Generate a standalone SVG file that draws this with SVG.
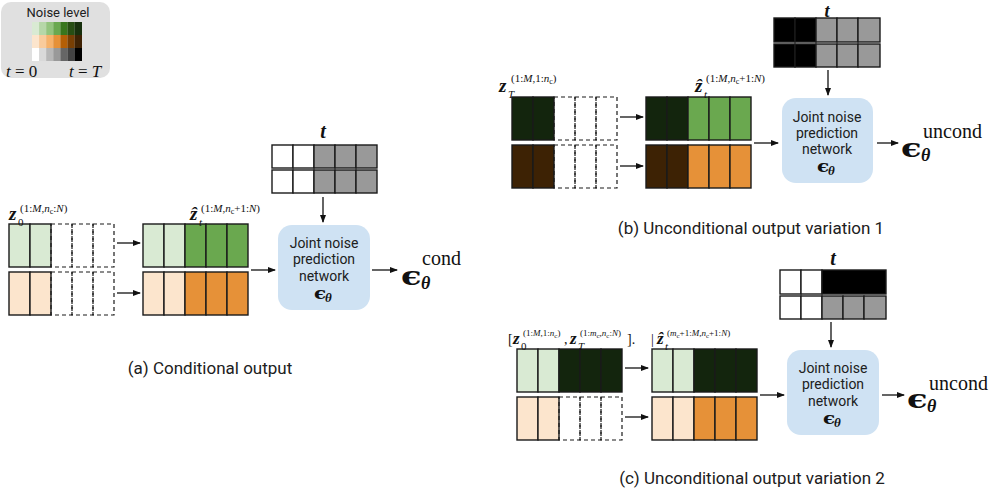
<svg xmlns="http://www.w3.org/2000/svg" width="997" height="493" viewBox="0 0 997 493">
<style>
.c{stroke:#1a1a1a;stroke-width:1.4}
.d{fill:none;stroke:#1a1a1a;stroke-width:1.2;stroke-dasharray:4 3}
.lg{fill:#d9ead3}.g{fill:#6aa84f}.dg{fill:#13250d}
.lo{fill:#fce5cd}.o{fill:#e69138}.db{fill:#3d2204}
.w{fill:#fff}.gy{fill:#999}.bk{fill:#000}
.net{fill:#cfe2f3}
.sans{font-family:Roboto,"Open Sans",sans-serif;fill:#202020}
.nt{font-size:14px;text-anchor:middle}
.cap{font-size:17px;text-anchor:middle}
.m{font-family:"Liberation Serif","DejaVu Serif",serif;fill:#111}
.bz{font-weight:bold;font-style:italic;font-size:19px}
.bt{font-weight:bold;font-style:italic;font-size:20px;text-anchor:middle}
.sup{font-size:11px}
.ss{font-size:8px}
.sup9{font-size:9px}
.ss7{font-size:7px}
.br{font-size:14px}
.i{font-style:italic}
.eps{font-family:"DejaVu Serif","Liberation Serif",serif;font-weight:bold;fill:#111}
.th{font-family:"Liberation Serif","DejaVu Serif",serif;font-weight:bold;font-style:italic;fill:#111}
.ar{fill:none;stroke:#111;stroke-width:1.3;marker-end:url(#ah)}
</style>
<defs>
<marker id="ah" markerWidth="8" markerHeight="6" refX="7" refY="3" orient="auto" markerUnits="userSpaceOnUse">
<path d="M0,0 L8,3 L0,6 z" fill="#111"/>
</marker>
</defs>

<g id="legend">
<rect x="1" y="2" width="109" height="76" rx="10" fill="#e0e0e0"/>
<text x="58" y="17" class="sans" style="font-size:13px" text-anchor="middle" fill="#111">Noise level</text>
<rect x="32" y="22" width="7.2" height="13" fill="#d9ead3"/><rect x="39.1" y="22" width="7.2" height="13" fill="#b6d7a8"/><rect x="46.2" y="22" width="7.2" height="13" fill="#93c47d"/><rect x="53.3" y="22" width="7.2" height="13" fill="#6aa84f"/><rect x="60.4" y="22" width="7.2" height="13" fill="#38761d"/><rect x="67.5" y="22" width="7.2" height="13" fill="#274e13"/><rect x="74.6" y="22" width="7.4" height="13" fill="#17300d"/>
<rect x="32" y="35" width="7.2" height="13" fill="#fce5cd"/><rect x="39.1" y="35" width="7.2" height="13" fill="#f9cb9c"/><rect x="46.2" y="35" width="7.2" height="13" fill="#f6b26b"/><rect x="53.3" y="35" width="7.2" height="13" fill="#e69138"/><rect x="60.4" y="35" width="7.2" height="13" fill="#b45f06"/><rect x="67.5" y="35" width="7.2" height="13" fill="#783f04"/><rect x="74.6" y="35" width="7.4" height="13" fill="#3f2204"/>
<rect x="32" y="48" width="7.2" height="13" fill="#ffffff"/><rect x="39.1" y="48" width="7.2" height="13" fill="#d9d9d9"/><rect x="46.2" y="48" width="7.2" height="13" fill="#b7b7b7"/><rect x="53.3" y="48" width="7.2" height="13" fill="#999999"/><rect x="60.4" y="48" width="7.2" height="13" fill="#666666"/><rect x="67.5" y="48" width="7.2" height="13" fill="#434343"/><rect x="74.6" y="48" width="7.4" height="13" fill="#000000"/>
<text x="6" y="77" class="m" style="font-size:17px"><tspan class="i">t</tspan> = 0</text>
<text x="69" y="77" class="m" style="font-size:17px"><tspan class="i">t</tspan> = <tspan class="i">T</tspan></text>
</g>

<!-- Panel (a) -->
<g id="a-input">
<rect class="c lg" x="9" y="224" width="21" height="43"/><rect class="c lg" x="30" y="224" width="21" height="43"/>
<rect class="d" x="51" y="224" width="21" height="43"/><rect class="d" x="72" y="224" width="21" height="43"/><rect class="d" x="93" y="224" width="21" height="43"/>
<rect class="c lo" x="9" y="272" width="21" height="43"/><rect class="c lo" x="30" y="272" width="21" height="43"/>
<rect class="d" x="51" y="272" width="21" height="43"/><rect class="d" x="72" y="272" width="21" height="43"/><rect class="d" x="93" y="272" width="21" height="43"/>
<text class="m" y="220"><tspan x="9" class="bz">z</tspan><tspan x="18" y="226" class="sup">0</tspan><tspan x="20" y="212" class="sup">(1:<tspan class="i">M</tspan>,<tspan class="i">n</tspan></tspan><tspan class="ss" dy="2">c</tspan><tspan class="sup" dy="-2">:<tspan class="i">N</tspan>)</tspan></text>
</g>
<g id="a-mid">
<rect class="c lg" x="143" y="224" width="21" height="43"/><rect class="c lg" x="164" y="224" width="21" height="43"/><rect class="c g" x="185" y="224" width="21" height="43"/><rect class="c g" x="206" y="224" width="21" height="43"/><rect class="c g" x="227" y="224" width="21" height="43"/>
<rect class="c lo" x="143" y="272" width="21" height="43"/><rect class="c lo" x="164" y="272" width="21" height="43"/><rect class="c o" x="185" y="272" width="21" height="43"/><rect class="c o" x="206" y="272" width="21" height="43"/><rect class="c o" x="227" y="272" width="21" height="43"/>
<text class="m" y="220"><tspan x="190" class="bz">ẑ</tspan><tspan x="199" y="226" class="sup i">t</tspan><tspan x="201" y="212" class="sup">(1:<tspan class="i">M</tspan>,<tspan class="i">n</tspan></tspan><tspan class="ss" dy="2">c</tspan><tspan class="sup" dy="-2">+1:<tspan class="i">N</tspan>)</tspan></text>
</g>
<g id="a-t">
<text x="323" y="138" class="m bt">t</text>
<rect class="c w" x="272" y="145" width="21" height="23"/><rect class="c w" x="293" y="145" width="21" height="23"/><rect class="c gy" x="314" y="145" width="21" height="23"/><rect class="c gy" x="335" y="145" width="21" height="23"/><rect class="c gy" x="356" y="145" width="21" height="23"/>
<rect class="c w" x="272" y="170" width="21" height="23"/><rect class="c w" x="293" y="170" width="21" height="23"/><rect class="c gy" x="314" y="170" width="21" height="23"/><rect class="c gy" x="335" y="170" width="21" height="23"/><rect class="c gy" x="356" y="170" width="21" height="23"/>
</g>
<g id="a-net">
<rect class="net" x="278" y="225" width="92" height="85" rx="14"/>
<text class="sans nt"><tspan x="324" y="248">Joint noise</tspan><tspan x="324" y="264">prediction</tspan><tspan x="324" y="281">network</tspan></text>
<text transform="translate(314,299) scale(1.25,1)" class="eps" style="font-size:16px">ϵ</text><text x="325" y="302" class="th" style="font-size:13px">θ</text>
</g>
<g id="a-out">
<text transform="translate(401,285) scale(1.3,1)" class="eps" style="font-size:26px">ϵ</text><text x="421" y="289" class="th" style="font-size:18px">θ</text>
<text x="422" y="265" class="m" style="font-size:20px">cond</text>
</g>
<text id="a-cap" x="210" y="374" class="sans cap">(a) Conditional output</text>

<!-- Panel (b) -->
<g id="b-input">
<rect class="c dg" x="512" y="97" width="21" height="43"/><rect class="c dg" x="533" y="97" width="21" height="43"/>
<rect class="d" x="554" y="97" width="21" height="43"/><rect class="d" x="575" y="97" width="21" height="43"/><rect class="d" x="596" y="97" width="21" height="43"/>
<rect class="c db" x="512" y="145" width="21" height="43"/><rect class="c db" x="533" y="145" width="21" height="43"/>
<rect class="d" x="554" y="145" width="21" height="43"/><rect class="d" x="575" y="145" width="21" height="43"/><rect class="d" x="596" y="145" width="21" height="43"/>
<text class="m" y="92"><tspan x="499" class="bz">z</tspan><tspan x="508" y="98" class="sup i">T</tspan><tspan x="511" y="82" class="sup">(1:<tspan class="i">M</tspan>,1:<tspan class="i">n</tspan></tspan><tspan class="ss" dy="2">c</tspan><tspan class="sup" dy="-2">)</tspan></text>
</g>
<g id="b-mid">
<rect class="c dg" x="646" y="97" width="21" height="43"/><rect class="c dg" x="667" y="97" width="21" height="43"/><rect class="c g" x="688" y="97" width="21" height="43"/><rect class="c g" x="709" y="97" width="21" height="43"/><rect class="c g" x="730" y="97" width="21" height="43"/>
<rect class="c db" x="646" y="145" width="21" height="43"/><rect class="c db" x="667" y="145" width="21" height="43"/><rect class="c o" x="688" y="145" width="21" height="43"/><rect class="c o" x="709" y="145" width="21" height="43"/><rect class="c o" x="730" y="145" width="21" height="43"/>
<text class="m" y="92"><tspan x="695" class="bz">ẑ</tspan><tspan x="704" y="98" class="sup i">t</tspan><tspan x="706" y="82" class="sup">(1:<tspan class="i">M</tspan>,<tspan class="i">n</tspan></tspan><tspan class="ss" dy="2">c</tspan><tspan class="sup" dy="-2">+1:<tspan class="i">N</tspan>)</tspan></text>
</g>
<g id="b-t">
<text x="827" y="17" class="m bt" style="font-size:18px">t</text>
<rect class="c bk" x="774" y="18" width="21" height="24"/><rect class="c bk" x="795" y="18" width="21" height="24"/><rect class="c gy" x="816" y="18" width="21" height="24"/><rect class="c gy" x="837" y="18" width="21" height="24"/><rect class="c gy" x="858" y="18" width="22" height="24"/>
<rect class="c bk" x="774" y="44" width="21" height="23"/><rect class="c bk" x="795" y="44" width="21" height="23"/><rect class="c gy" x="816" y="44" width="21" height="23"/><rect class="c gy" x="837" y="44" width="21" height="23"/><rect class="c gy" x="858" y="44" width="22" height="23"/>
</g>
<g id="b-net">
<rect class="net" x="782" y="98" width="91" height="85" rx="14"/>
<text class="sans nt"><tspan x="827" y="122">Joint noise</tspan><tspan x="827" y="138">prediction</tspan><tspan x="827" y="154">network</tspan></text>
<text transform="translate(817,172) scale(1.25,1)" class="eps" style="font-size:16px">ϵ</text><text x="828" y="175" class="th" style="font-size:13px">θ</text>
</g>
<g id="b-out">
<text transform="translate(901,157) scale(1.3,1)" class="eps" style="font-size:26px">ϵ</text><text x="921" y="161" class="th" style="font-size:18px">θ</text>
<text x="923" y="138" class="m" style="font-size:20px">uncond</text>
</g>
<text id="b-cap" x="751" y="234" class="sans cap">(b) Unconditional output variation 1</text>

<!-- Panel (c) -->
<g id="c-input">
<rect class="c lg" x="517" y="349" width="21" height="43"/><rect class="c lg" x="538" y="349" width="21" height="43"/><rect class="c dg" x="559" y="349" width="21" height="43"/><rect class="c dg" x="580" y="349" width="21" height="43"/><rect class="c dg" x="601" y="349" width="21" height="43"/>
<rect class="c lo" x="517" y="397" width="21" height="43"/><rect class="c lo" x="538" y="397" width="21" height="43"/>
<rect class="d" x="559" y="397" width="21" height="43"/><rect class="d" x="580" y="397" width="21" height="43"/><rect class="d" x="601" y="397" width="21" height="43"/>
<text class="m" y="344"><tspan x="508" class="br">[</tspan><tspan x="513" class="bz" style="font-size:17px">z</tspan><tspan x="521" y="350" class="sup">0</tspan><tspan x="523" y="336" class="sup9">(1:<tspan class="i">M</tspan>,1:<tspan class="i">n</tspan></tspan><tspan class="ss7" dy="2">c</tspan><tspan class="sup9" dy="-2">)</tspan><tspan x="564" y="344" class="br">,</tspan><tspan x="570" y="344" class="bz" style="font-size:17px">z</tspan><tspan x="578" y="350" class="sup i">T</tspan><tspan x="580" y="336" class="sup9">(1:<tspan class="i">m</tspan></tspan><tspan class="ss7" dy="2">c</tspan><tspan class="sup9" dy="-2">,<tspan class="i">n</tspan></tspan><tspan class="ss7" dy="2">c</tspan><tspan class="sup9" dy="-2">:<tspan class="i">N</tspan>)</tspan><tspan x="627" y="344" class="br">].</tspan></text>
</g>
<g id="c-mid">
<rect class="c lg" x="652" y="349" width="21" height="43"/><rect class="c lg" x="673" y="349" width="21" height="43"/><rect class="c dg" x="694" y="349" width="21" height="43"/><rect class="c dg" x="715" y="349" width="21" height="43"/><rect class="c dg" x="736" y="349" width="21" height="43"/>
<rect class="c lo" x="652" y="397" width="21" height="43"/><rect class="c lo" x="673" y="397" width="21" height="43"/><rect class="c o" x="694" y="397" width="21" height="43"/><rect class="c o" x="715" y="397" width="21" height="43"/><rect class="c o" x="736" y="397" width="21" height="43"/>
<text class="m" y="344"><tspan x="651" class="br">|</tspan><tspan x="657" class="bz" style="font-size:17px">ẑ</tspan><tspan x="665" y="350" class="sup i">t</tspan><tspan x="667" y="336" class="sup9">(<tspan class="i">m</tspan></tspan><tspan class="ss7" dy="2">c</tspan><tspan class="sup9" dy="-2">+1:<tspan class="i">M</tspan>,<tspan class="i">n</tspan></tspan><tspan class="ss7" dy="2">c</tspan><tspan class="sup9" dy="-2">+1:<tspan class="i">N</tspan>)</tspan></text>
</g>
<g id="c-t">
<text x="833" y="265" class="m bt">t</text>
<rect class="c w" x="780" y="270" width="21" height="24"/><rect class="c w" x="801" y="270" width="21" height="24"/><rect class="c bk" x="822" y="270" width="64" height="24"/>
<rect class="c w" x="780" y="296" width="21" height="23"/><rect class="c w" x="801" y="296" width="21" height="23"/><rect class="c gy" x="822" y="296" width="21" height="23"/><rect class="c gy" x="843" y="296" width="21" height="23"/><rect class="c gy" x="864" y="296" width="22" height="23"/>
</g>
<g id="c-net">
<rect class="net" x="787" y="350" width="92" height="85" rx="14"/>
<text class="sans nt"><tspan x="833" y="373">Joint noise</tspan><tspan x="833" y="389">prediction</tspan><tspan x="833" y="406">network</tspan></text>
<text transform="translate(823,424) scale(1.25,1)" class="eps" style="font-size:16px">ϵ</text><text x="834" y="427" class="th" style="font-size:13px">θ</text>
</g>
<g id="c-out">
<text transform="translate(907,408) scale(1.3,1)" class="eps" style="font-size:26px">ϵ</text><text x="927" y="412" class="th" style="font-size:18px">θ</text>
<text x="929" y="390" class="m" style="font-size:20px">uncond</text>
</g>
<text id="c-cap" x="752" y="484" class="sans cap">(c) Unconditional output variation 2</text>

<g id="connectors">
<path class="ar" d="M117,243 H140"/>
<path class="ar" d="M117,293 H140"/>
<path class="ar" d="M251,270 H275"/>
<path class="ar" d="M323,197 V222"/>
<path class="ar" d="M372,270 H397"/>
<path class="ar" d="M620,117 H643"/>
<path class="ar" d="M620,166 H643"/>
<path class="ar" d="M754,143 H778"/>
<path class="ar" d="M828,70 V95"/>
<path class="ar" d="M877,143 H898"/>
<path class="ar" d="M625,368 H648"/>
<path class="ar" d="M625,417 H648"/>
<path class="ar" d="M760,395 H784"/>
<path class="ar" d="M831,322 V347"/>
<path class="ar" d="M882,395 H904"/>
</g>
</svg>
